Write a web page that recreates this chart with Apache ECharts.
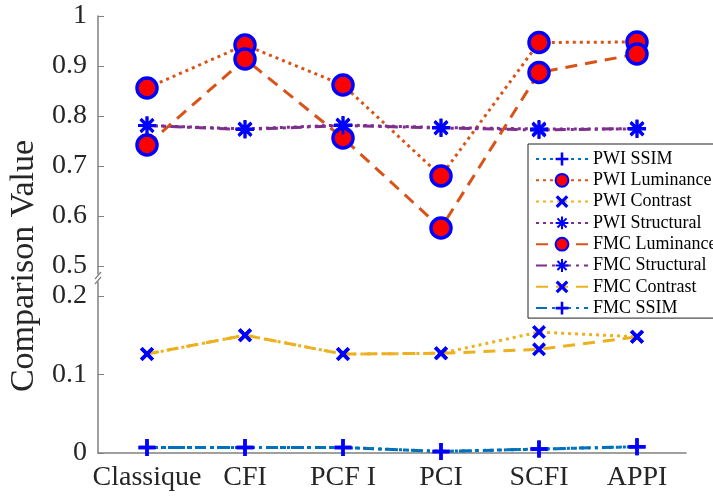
<!DOCTYPE html>
<html>
<head>
<meta charset="utf-8">
<script src="https://cdn.jsdelivr.net/npm/echarts@6/dist/echarts.min.js"></script>
<style>html,body{margin:0;padding:0;background:#fff}#c{width:713px;height:497px}</style>
</head>
<body>
<div id="c"></div>
<script>
const categories = ['Classique', 'CFI', 'PCF I', 'PCI', 'SCFI', 'APPI'];
const pwiLuminance = [0.856, 0.942, 0.862, 0.680, 0.947, 0.948];
const fmcLuminance = [0.742, 0.914, 0.756, 0.576, 0.887, 0.924];
const pwiStructural = [0.781, 0.774, 0.782, 0.777, 0.774, 0.774];
const fmcStructural = [0.781, 0.773, 0.781, 0.776, 0.772, 0.775];
const pwiContrast = [0.126, 0.150, 0.126, 0.127, 0.154, 0.148];
const fmcContrast = [0.126, 0.150, 0.126, 0.127, 0.132, 0.148];
const pwiSSIM = [0.007, 0.007, 0.007, 0.002, 0.005, 0.008];
const fmcSSIM = [0.007, 0.007, 0.007, 0.002, 0.005, 0.008];
const upperTicks = [0.5, 0.6, 0.7, 0.8, 0.9, 1];
const lowerTicks = [0, 0.1, 0.2];

const FONT = "'Liberation Serif','Times New Roman',serif";
const C_BLUE = '#0072BD', C_ORANGE = '#D95319', C_YELLOW = '#EDB120', C_PURPLE = '#7E2F8E';
const MK = '#0000FF';

function rect(angleDeg, half) {
  const a = angleDeg * Math.PI / 180, c = Math.cos(a), s = Math.sin(a);
  const pts = [[-1, -half], [1, -half], [1, half], [-1, half]].map(p => [p[0] * c - p[1] * s, p[0] * s + p[1] * c]);
  return 'M' + pts.map(p => p[0].toFixed(3) + ',' + p[1].toFixed(3)).join('L') + 'Z';
}
const plusPath = 'path://' + rect(0, 0.2) + rect(90, 0.2);
const crossPath = 'path://' + rect(45, 0.22) + rect(135, 0.22);
const starPath = 'path://' + rect(0, 0.16) + rect(45, 0.16) + rect(90, 0.16) + rect(135, 0.16);

const DOT = [3, 4], DASH = [12, 8], DASHDOT = [11, 5, 3, 5];

function mkSeries(name, data, grid, color, dash, kind) {
  const s = {
    name, type: 'line', data, xAxisIndex: grid, yAxisIndex: grid,
    lineStyle: { color, width: 3, type: dash, cap: 'butt' },
    itemStyle: { color: MK },
    emphasis: { disabled: true },
    animation: false,
    z: 3
  };
  if (kind === 'circle') {
    s.symbol = 'circle'; s.symbolSize = 20;
    s.itemStyle = { color: '#FF0000', borderColor: MK, borderWidth: 3.5 };
  } else if (kind === 'star') {
    s.symbol = starPath; s.symbolSize = 18;
  } else if (kind === 'cross') {
    s.symbol = crossPath; s.symbolSize = 14;
  } else {
    s.symbol = plusPath; s.symbolSize = 17;
  }
  return s;
}

const series = [
  mkSeries('PWI SSIM', pwiSSIM, 1, C_BLUE, DOT, 'plus'),
  mkSeries('PWI Luminance', pwiLuminance, 0, C_ORANGE, DOT, 'circle'),
  mkSeries('PWI Contrast', pwiContrast, 1, C_YELLOW, DOT, 'cross'),
  mkSeries('PWI Structural', pwiStructural, 0, C_PURPLE, DOT, 'star'),
  mkSeries('FMC Luminance', fmcLuminance, 0, C_ORANGE, DASH, 'circle'),
  mkSeries('FMC Structural', fmcStructural, 0, C_PURPLE, DASHDOT, 'star'),
  mkSeries('FMC Contrast', fmcContrast, 1, C_YELLOW, DASH, 'cross'),
  mkSeries('FMC SSIM', fmcSSIM, 1, C_BLUE, DASHDOT, 'plus')
];

const axisCol = '#808080';
const labelStyle = { fontFamily: FONT, fontSize: 28, color: '#262626' };

const option = {
  backgroundColor: '#fff',
  animation: false,
  grid: [
    { left: 98, width: 588, top: 16, height: 258 },
    { left: 98, width: 588, top: 282, height: 171 }
  ],
  xAxis: [
    { type: 'category', data: categories, gridIndex: 0, boundaryGap: true, show: false },
    { type: 'category', data: categories, gridIndex: 1, boundaryGap: true,
      axisLine: { lineStyle: { color: axisCol, width: 1.5 } },
      axisTick: { show: false },
      axisLabel: Object.assign({ margin: 11, interval: 0 }, labelStyle),
      splitLine: { show: false } }
  ],
  yAxis: [
    { type: 'value', gridIndex: 0, min: 0.484, max: 1,
      axisLine: { show: true, lineStyle: { color: axisCol, width: 1.5 } },
      axisTick: { show: true, inside: true, length: 6, customValues: upperTicks, lineStyle: { color: axisCol } },
      axisLabel: Object.assign({ margin: 11, customValues: upperTicks, formatter: v => String(+v.toFixed(1)) }, labelStyle),
      splitLine: { show: false } },
    { type: 'value', gridIndex: 1, min: 0, max: 0.2178,
      axisLine: { show: true, lineStyle: { color: axisCol, width: 1.5 } },
      axisTick: { show: true, inside: true, length: 6, customValues: lowerTicks, lineStyle: { color: axisCol } },
      axisLabel: Object.assign({ margin: 11, customValues: lowerTicks, formatter: v => String(+v.toFixed(1)) }, labelStyle),
      splitLine: { show: false } }
  ],
  legend: {
    data: series.map(s => s.name),
    orient: 'vertical',
    left: 528, top: 144,
    padding: [6, 30, 1, 7],
    itemWidth: 52, itemHeight: 16, itemGap: 3.3,
    backgroundColor: '#fff',
    borderColor: '#222', borderWidth: 1, borderRadius: 0,
    textStyle: { fontFamily: FONT, fontSize: 18, lineHeight: 16, color: '#000' },
    selectedMode: false,
    z: 10
  },
  graphic: [
    { type: 'text', x: 24, y: 266, rotation: Math.PI / 2,
      style: { text: 'Comparison Value', font: '34px ' + FONT, fill: '#262626', align: 'center', verticalAlign: 'middle' } },
    { type: 'rect', shape: { x: 94, y: 275, width: 8, height: 6 }, style: { fill: '#fff' }, z: 5 },
    { type: 'line', shape: { x1: 95, y1: 279, x2: 101, y2: 272 }, style: { stroke: axisCol, lineWidth: 1.2 }, z: 6 },
    { type: 'line', shape: { x1: 95, y1: 284, x2: 101, y2: 277 }, style: { stroke: axisCol, lineWidth: 1.2 }, z: 6 }
  ],
  series
};

const chart = echarts.init(document.getElementById('c'), null, { renderer: 'canvas' });
chart.setOption(option);
</script>
</body>
</html>
